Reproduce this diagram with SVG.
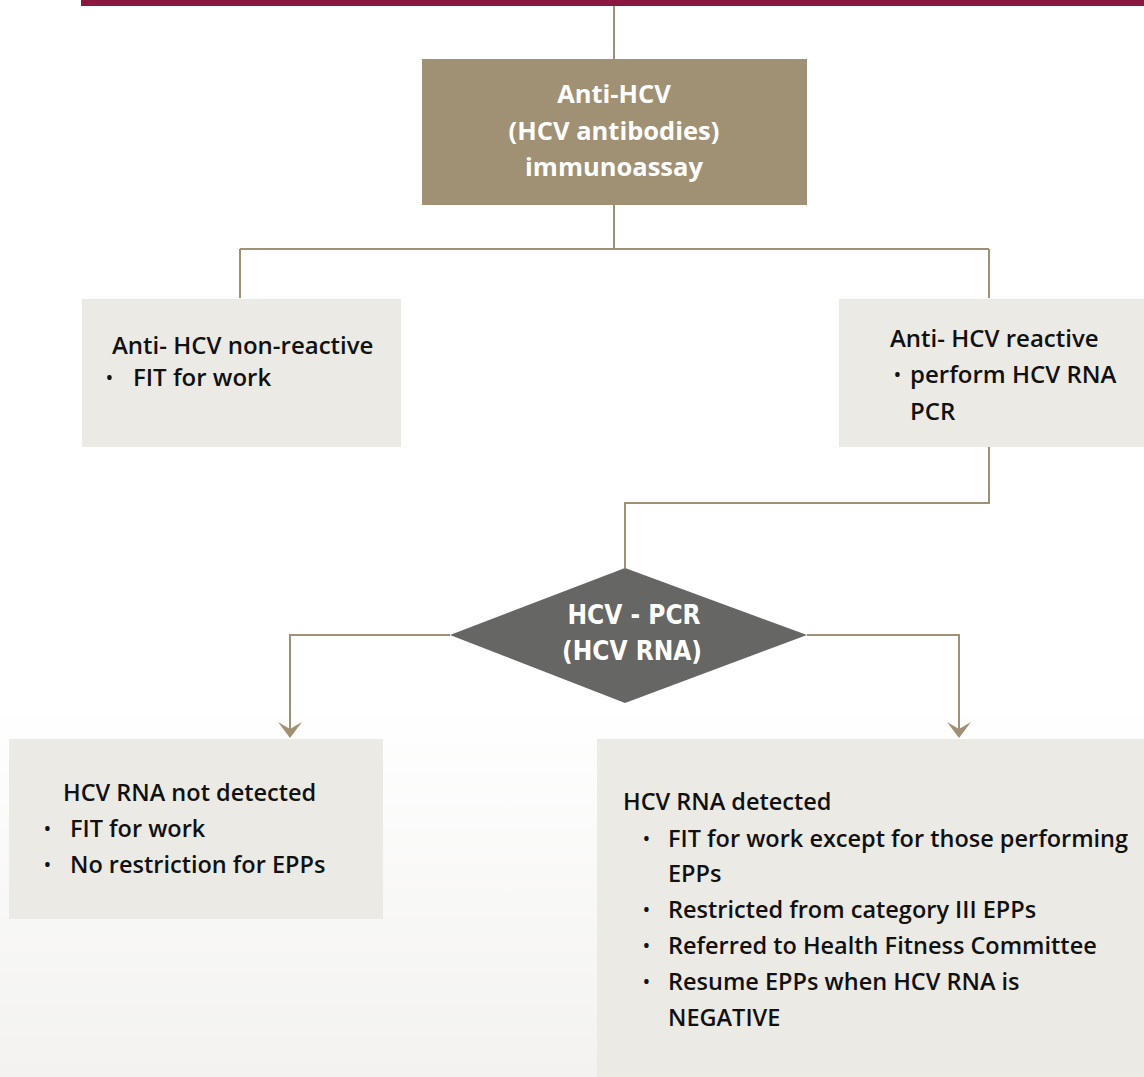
<svg xmlns="http://www.w3.org/2000/svg" width="1144" height="1077" viewBox="0 0 1144 1077">
<style>
.conn{fill:none;stroke:#A09174;stroke-width:2}
.arrow{fill:#A09174}
.light{fill:#ECEAE5}
.body{font-family:"Open Sans",Lato,"Liberation Sans",sans-serif;font-size:23.5px;font-weight:600;fill:#111}
.big{font-size:24px}
.bul{font-family:"Open Sans",Lato,"Liberation Sans",sans-serif;font-size:18px;font-weight:600;fill:#111}
.head{font-family:"Open Sans",Lato,"Liberation Sans",sans-serif;font-size:25.5px;font-weight:700;fill:#fff;text-anchor:middle}
.dia{font-family:"Liberation Sans Narrow","DejaVu Sans Condensed",Lato,sans-serif;font-size:26px;font-weight:700;fill:#fff;text-anchor:middle}
</style>
<defs>
<linearGradient id="bg" x1="0" y1="0" x2="0" y2="1">
<stop offset="0" stop-color="#ffffff"/>
<stop offset="1" stop-color="#f3f2f0"/>
</linearGradient>
</defs>
<rect x="0" y="0" width="1144" height="1077" fill="#fff"/>
<rect x="0" y="700" width="1144" height="377" fill="url(#bg)"/>
<rect id="topbar" x="81" y="0" width="1063" height="6" fill="#8B1840"/>
<g id="connectors">
<path class="conn" d="M614,6 V59"/>
<path class="conn" d="M614,205 V249 M240,249 H989 M240,249 V298 M989,249 V298"/>
<path class="conn" d="M989,447 V503 H625 V568"/>
<path class="conn" d="M450,635 H290 V730"/>
<path class="conn" d="M807,635 H959 V730"/>
<polygon class="arrow" points="290,738 278,722 290,729 302,722"/>
<polygon class="arrow" points="959,738 947,722 959,729 971,722"/>
</g>
<g id="node-antihcv">
<rect x="422" y="59" width="385" height="146" fill="#A09174"/>
<text class="head" x="614" y="103">Anti-HCV</text>
<text class="head" x="614" y="140">(HCV antibodies)</text>
<text class="head" x="614" y="176">immunoassay</text>
</g>
<g id="node-nonreactive">
<rect class="light" x="82" y="299" width="319" height="148"/>
<text class="body big" x="112" y="354">Anti- HCV non-reactive</text>
<text class="bul" x="106" y="384">•</text>
<text class="body big" x="133" y="386">FIT for work</text>
</g>
<g id="node-reactive">
<rect class="light" x="839" y="299" width="305" height="148"/>
<text class="body big" x="890" y="347">Anti- HCV reactive</text>
<text class="bul" x="894" y="381">•</text>
<text class="body big" x="910" y="383">perform HCV RNA</text>
<text class="body big" x="910" y="420">PCR</text>
</g>
<g id="node-pcr">
<polygon points="625,568 807,635 625,703 450,635" fill="#666664"/>
<text class="dia" x="634" y="624">HCV - PCR</text>
<text class="dia" x="632" y="660">(HCV RNA)</text>
</g>
<g id="node-notdetected">
<rect class="light" x="9" y="739" width="374" height="180"/>
<text class="body" x="63" y="801">HCV RNA not detected</text>
<text class="bul" x="44" y="835">•</text>
<text class="body" x="70" y="837">FIT for work</text>
<text class="bul" x="44" y="871">•</text>
<text class="body" x="70" y="873">No restriction for EPPs</text>
</g>
<g id="node-detected">
<rect class="light" x="597" y="739" width="547" height="338"/>
<text class="body" x="623" y="810">HCV RNA detected</text>
<text class="bul" x="643" y="845">•</text>
<text class="body" x="668" y="847">FIT for work except for those  performing</text>
<text class="body" x="668" y="882">EPPs</text>
<text class="bul" x="643" y="916">•</text>
<text class="body" x="668" y="918">Restricted from category III EPPs</text>
<text class="bul" x="643" y="952">•</text>
<text class="body" x="668" y="954">Referred to Health Fitness Committee</text>
<text class="bul" x="643" y="988">•</text>
<text class="body" x="668" y="990">Resume EPPs when HCV RNA is</text>
<text class="body" x="668" y="1026">NEGATIVE</text>
</g>
</svg>
